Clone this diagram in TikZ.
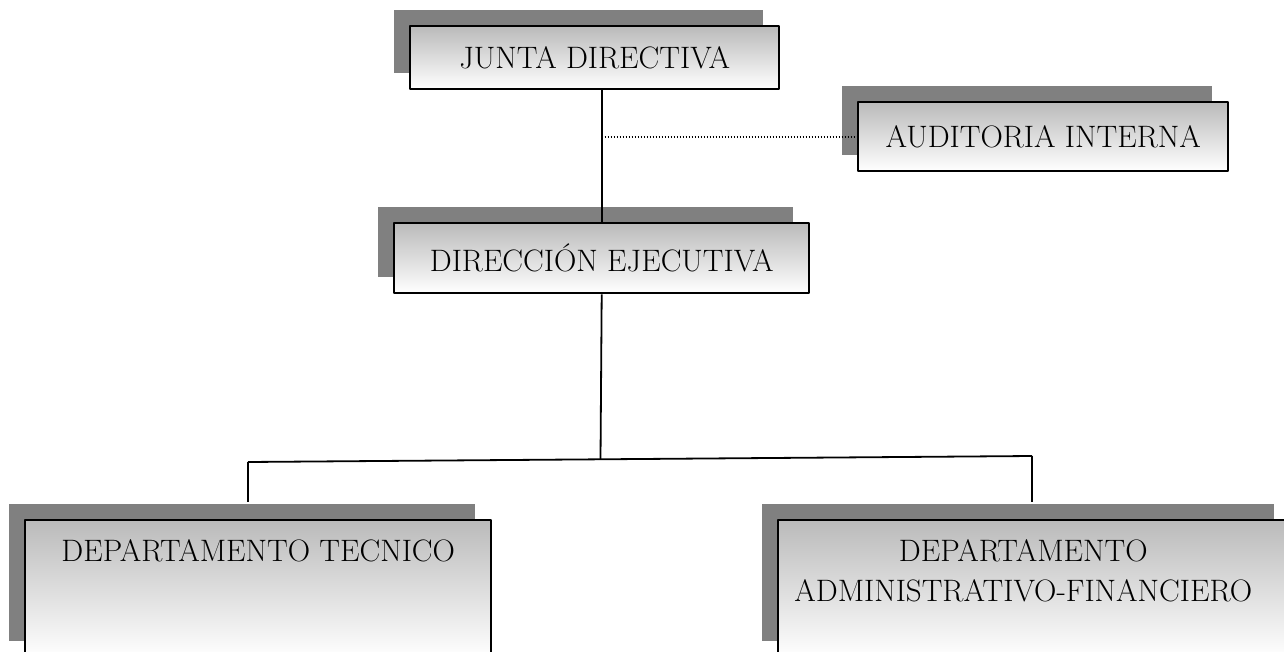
\documentclass[tikz,border=0pt]{standalone}
\usepackage{fontspec}
\usetikzlibrary{positioning,shadows}
\tikzset{
  caja/.style={draw, line width=2.4pt, anchor=north west, inner sep=0pt,
    top color=black!27, bottom color=white,
    drop shadow={shadow xshift=-16pt, shadow yshift=16pt, fill=black!50, opacity=1}},
  texto/.style={align=center, inner sep=0pt},
  linea/.style={line width=1.8pt}
}
\begin{document}
\begin{tikzpicture}[x=1pt, y=-1pt, font=\fontsize{31}{40}\selectfont, line join=round]
	\useasboundingbox (0,0) rectangle (1284,652);
	\clip (0,0) rectangle (1284,652);
	% cajas
	\node[caja, minimum width=369, minimum height=63] (junta) at (409,25) {JUNTA DIRECTIVA};
	\node[caja, minimum width=370, minimum height=69] (aud) at (857,101) {AUDITORIA INTERNA};
	\node[caja, minimum width=415, minimum height=70] (dir) at (393,222) {DIRECCIÓN EJECUTIVA};
	\node[caja, minimum width=466, minimum height=137] (tec) at (24,519) {};
	\node[caja, minimum width=512, minimum height=137] (adm) at (777,519) {};
	\node[texto, below=20pt of tec.north] (tectxt) {DEPARTAMENTO TECNICO};
	\node[texto, below=20pt of adm.north, xshift=-11pt] (admtxt) {DEPARTAMENTO\\ADMINISTRATIVO-FINANCIERO};
	% lineas
	\coordinate (union) at (600.5,459);
	\coordinate (ramaI) at (248,462);
	\coordinate (ramaD) at (1032,456);
	\coordinate (finI) at (248,502);
	\coordinate (finD) at (1032,502);
	\draw[linea] (dir.north |- junta.south) -- (dir.north);
	\draw[line width=1.8pt, dash pattern=on 1.6pt off 1.4pt] (dir.north |- aud.west) -- (aud.west);
	\draw[linea] (dir.south) -- (union);
	\draw[linea] (ramaI) -- (ramaD);
	\draw[linea] (ramaI) -- (finI);
	\draw[linea] (ramaD) -- (finD);
\end{tikzpicture}
\end{document}
